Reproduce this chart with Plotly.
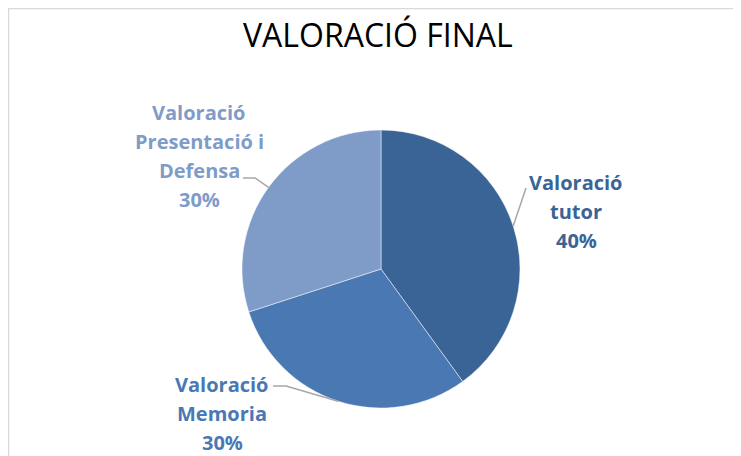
import math
import plotly.graph_objects as go

labels = ["Valoració tutor", "Valoració Memoria", "Valoració Presentació i Defensa"]
label_lines = [["Valoració", "tutor"], ["Valoració", "Memoria"], ["Valoració", "Presentació i", "Defensa"]]
values = [40, 30, 30]
colors = ["#3B6496", "#4A78B3", "#7F9CC9"]
title = "VALORACIÓ FINAL"

# page is 741x456; html body has an 8px margin, so the figure is 733x448 placed at (8, 8)
PW, PH = 741, 456
OFF = 8
W, H = PW - OFF, PH - OFF
cx, cy, r = 381, 269, 139  # pie centre / radius in page px


def px(x, y):
    return (x - OFF) / W, 1 - (y - OFF) / H


x0, y0 = px(cx - r, cy + r)
x1, y1 = px(cx + r, cy - r)
fig = go.Figure(go.Pie(
    labels=labels, values=values, sort=False, direction="clockwise", rotation=0,
    marker=dict(colors=colors, line=dict(color="rgba(255,255,255,0.6)", width=0.8)),
    textinfo="none", hoverinfo="label+percent", showlegend=False,
    domain=dict(x=[x0, x1], y=[y0, y1]),
))

# label block centres (page px) and leader elbows
label_pos = [(576, 211), (222, 413), (199, 156)]
elbows = [[(526, 188)], [(273, 386), (286, 386)], [(243, 178), (255, 178)]]
LINE = 29

total = sum(values)
start = 0.0
shapes = []
annotations = []
for i, v in enumerate(values):
    mid = start + v / total * 360 / 2
    start += v / total * 360
    ex = cx + r * math.sin(math.radians(mid))
    ey = cy - r * math.cos(math.radians(mid))
    pts = elbows[i] + [(ex, ey)]
    path = "M " + " L ".join(f"{px(x, y)[0]},{px(x, y)[1]}" for x, y in pts)
    shapes.append(dict(type="path", xref="paper", yref="paper", path=path,
                       line=dict(color="#A6A6A6", width=1.5)))
    pct = round(v / total * 100)
    lines = label_lines[i] + [f"{pct}%"]
    n = len(lines)
    bx, by = label_pos[i]
    for k, t in enumerate(lines):
        lx, ly = px(bx, by + (k - (n - 1) / 2) * LINE)
        annotations.append(dict(
            text=f"<b>{t}</b>", x=lx, y=ly, xref="paper", yref="paper",
            showarrow=False, xanchor="center", yanchor="middle", align="center",
            font=dict(family="Open Sans", size=20, color=colors[i])))

tx, ty = px(378, 34)
annotations.append(dict(text=title, x=tx, y=ty, xref="paper", yref="paper", showarrow=False,
                        xanchor="center", yanchor="middle",
                        font=dict(family="Open Sans", size=32, color="#000000")))

# chart area border (top and left edges visible)
shapes.append(dict(type="line", xref="paper", yref="paper", x0=0, x1=1.01, y0=1 - 0.5 / H, y1=1 - 0.5 / H,
                   line=dict(color="#D9D9D9", width=1.5)))
shapes.append(dict(type="line", xref="paper", yref="paper", x0=0.5 / W, x1=0.5 / W, y0=1, y1=-0.01,
                   line=dict(color="#D9D9D9", width=1.5)))

fig.update_layout(width=W, height=H, margin=dict(l=0, r=0, t=0, b=0),
                  paper_bgcolor="white", plot_bgcolor="white",
                  shapes=shapes, annotations=annotations)
fig.write_html("out.html")
